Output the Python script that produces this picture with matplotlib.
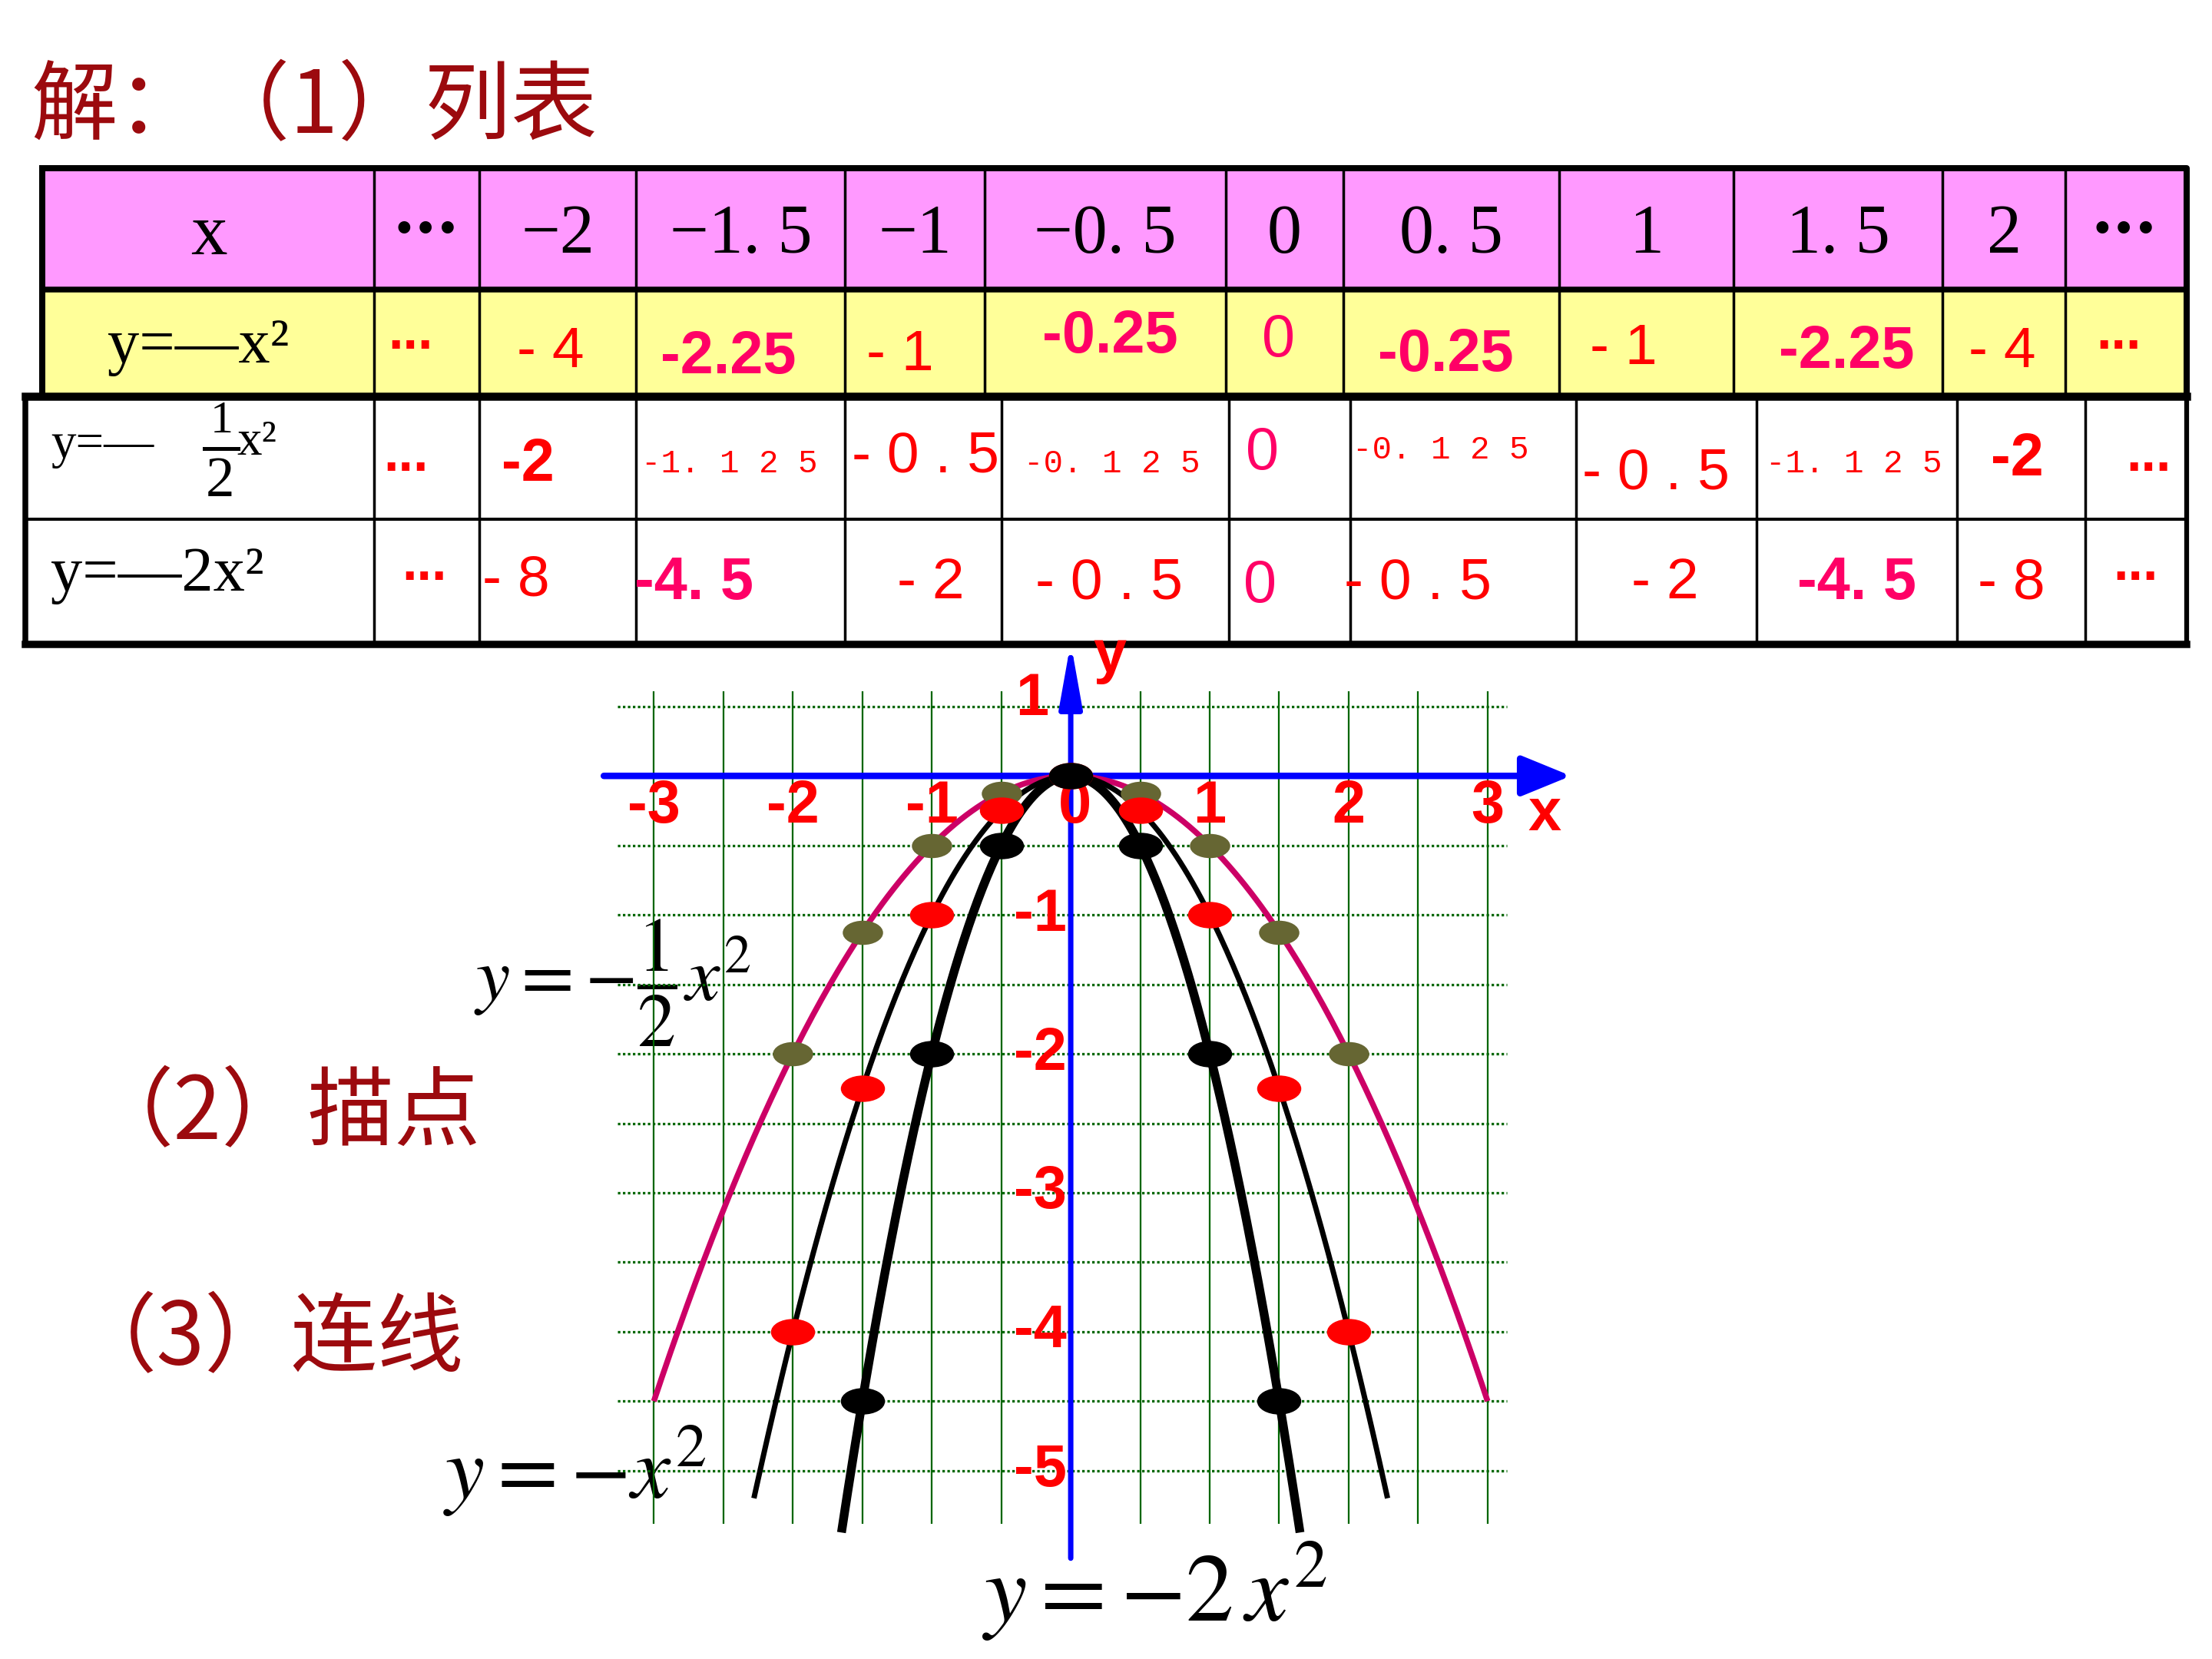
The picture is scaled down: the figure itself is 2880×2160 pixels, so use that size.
import numpy as np
import matplotlib.pyplot as plt
from matplotlib.patches import Rectangle, FancyArrowPatch
from matplotlib.path import Path
from matplotlib.transforms import Affine2D

plt.rcParams["font.family"] = ["Liberation Sans", "DejaVu Sans"]
plt.rcParams["mathtext.fontset"] = "stix"

# value table: x and the three functions
x_vals = [-2, -1.5, -1, -0.5, 0, 0.5, 1, 1.5, 2]
x_labels = ["−2", "−1. 5", "−1", "−0. 5", "0", "0. 5", "1", "1. 5", "2"]
y_sq = [-4, -2.25, -1, -0.25, 0, -0.25, -1, -2.25, -4]            # y = -x²
y_sq_labels = ["- 4", "-2.25", "- 1", "-0.25", "0", "-0.25", "- 1", "-2.25", "- 4"]
y_half = [-2, -1.125, -0.5, -0.125, 0, -0.125, -0.5, -1.125, -2]  # y = -x²/2
y_half_labels = ["-2", "-1. 1 2 5", "- 0 . 5", "-0. 1 2 5", "0",
                 "-0. 1 2 5", "- 0 . 5", "-1. 1 2 5", "-2"]
y_dbl = [-8, -4.5, -2, -0.5, 0, -0.5, -2, -4.5, -8]                # y = -2x²
y_dbl_labels = ["- 8", "-4. 5", "- 2", "- 0 . 5", "0", "- 0 . 5", "- 2", "-4. 5", "- 8"]

# x extent of each drawn curve
span_half = (-3.0, 3.0)
span_sq = (-2.28, 2.28)
span_dbl = (-1.65, 1.65)

DARK_RED = "#9C0A0E"
PINK = "#FF99FF"
YELLOW = "#FFFF99"
RED = "#FF0000"
CRIMSON = "#FF0066"
MAGENTA = "#CC0066"
OLIVE = "#666633"
GRID = "#006600"
BLUE = "#0000FF"

SERIF = ["Liberation Serif", "DejaVu Serif"]
NARROW = ["Liberation Sans Narrow", "Liberation Sans", "DejaVu Sans"]
MONO = ["Liberation Mono", "DejaVu Sans Mono"]
CJK = ["Noto Sans CJK SC", "DejaVu Sans"]

W, H = 1568, 1176          # layout grid (pixels of the slide)
PX_PER_PT = 1 / 0.7347

fig = plt.figure(figsize=(16, 12), dpi=180)
fig.patch.set_facecolor("white")

ov = fig.add_axes([0, 0, 1, 1])
ov.set_xlim(0, W)
ov.set_ylim(H, 0)
ov.axis("off")


def put(x, y, s, size, color="black", family=None, weight="normal", ha="center"):
    """text whose digits are vertically centred on y"""
    ov.text(x, y + 0.35 * size * PX_PER_PT, s, fontsize=size, color=color,
            family=family or NARROW, weight=weight, ha=ha, va="baseline")


def red_dots(x, y):
    ov.text(x, y + 4, "...", fontsize=28, color=RED, weight="bold",
            ha="center", va="baseline", family=["Liberation Sans", "DejaVu Sans"])


def cell_value(x, y, s):
    if "1 2 5" in s:
        put(x, y, s, 17, RED, MONO)
    elif s in ("-2.25", "-0.25", "-4. 5"):
        put(x, y, s, 31, CRIMSON, NARROW, "bold")
    elif s == "-2":
        put(x, y, s, 31, RED, NARROW, "bold")
    elif s == "0":
        put(x, y, s, 31, CRIMSON, NARROW)
    else:
        put(x, y, s, 30, RED, NARROW)


# ---------- title ----------
ov.text(22, 77, "解：（1）列表", fontsize=45, color=DARK_RED, family=CJK,
        ha="left", va="center")
ov.text(62, 790, "（2）描点", fontsize=45, color=DARK_RED, family=CJK,
        ha="left", va="center")
ov.text(50, 950, "（3）连线", fontsize=45, color=DARK_RED, family=CJK,
        ha="left", va="center")

# ---------- upper table ----------
tc = [30, 265, 340, 451, 599, 698, 869, 952, 1105, 1229, 1377, 1464, 1550]
tr = [119, 205, 281]
ov.add_patch(Rectangle((tc[0], tr[0]), tc[-1] - tc[0], tr[1] - tr[0], fc=PINK, ec="none"))
ov.add_patch(Rectangle((tc[0], tr[1]), tc[-1] - tc[0], tr[2] - tr[1], fc=YELLOW, ec="none"))
for xv in tc[1:-1]:
    ov.plot([xv, xv], [tr[0], tr[2]], color="black", lw=1.4)
ov.plot([tc[0], tc[-1]], [tr[1], tr[1]], color="black", lw=3)
ov.plot([tc[0], tc[-1], tc[-1]], [tr[0], tr[0], tr[2]], color="black", lw=3.2)
ov.plot([tc[0], tc[0]], [tr[0], tr[2]], color="black", lw=3.2)

# ---------- lower table ----------
bc = [18, 265, 340, 451, 599, 710, 871, 957, 1117, 1245, 1387, 1478, 1550]
br = [281, 368, 457]
for xv in bc[1:-1]:
    ov.plot([xv, xv], [br[0], br[2]], color="black", lw=1.4)
ov.plot([bc[0], bc[-1]], [br[1], br[1]], color="black", lw=1.6)
ov.plot([bc[0], bc[0]], [br[0], br[2]], color="black", lw=3)
ov.plot([bc[-1], bc[-1]], [br[0], br[2]], color="black", lw=2.5)
ov.plot([bc[0], bc[-1]], [br[2], br[2]], color="black", lw=3.8)
ov.plot([bc[0], bc[-1]], [br[0], br[0]], color="black", lw=4.2)

# header row
put(148, 162, "x", 38, family=SERIF)
for xd in (302, 1506):
    ov.text(xd, 170, "•••", fontsize=18, color="black", ha="center", va="baseline",
            family=["DejaVu Sans"], weight="bold")
for i, s in enumerate(x_labels):
    put((tc[i + 2] + tc[i + 3]) / 2, 162, s, 36, family=SERIF)

# row labels
ov.text(76, 246, "y=—x²", fontsize=33, family=SERIF, ha="left", va="center")
ov.text(36, 316, "y=—", fontsize=26, family=SERIF, ha="left", va="center")
ov.text(157, 299, "1", fontsize=24, family=SERIF, ha="center", va="center")
ov.plot([145, 169], [318, 318], color="black", lw=2)
ov.text(156, 342, "2", fontsize=30, family=SERIF, ha="center", va="center")
ov.text(168, 314, "x²", fontsize=26, family=SERIF, ha="left", va="center")
ov.text(36, 408, "y=—2x²", fontsize=33, family=SERIF, ha="left", va="center")

# value rows (cell text placement follows the slide)
sq_px = [291, 390, 516, 638, 787, 906, 1025, 1151, 1309, 1419, 1502]
sq_py = [243, 246, 250, 248, 235, 238, 248, 244, 246, 246, 243]
half_px = [288, 374, 517, 656, 788, 895, 1021, 1174, 1314, 1430, 1523]
half_py = [330, 326, 327, 320, 327, 318, 317, 332, 327, 322, 330]
dbl_px = [301, 366, 492, 660, 786, 893, 1005, 1180, 1316, 1426, 1514]
dbl_py = [407, 408, 410, 410, 410, 412, 410, 410, 410, 410, 407]
for labels, px, py in ((y_sq_labels, sq_px, sq_py),
                       (y_half_labels, half_px, half_py),
                       (y_dbl_labels, dbl_px, dbl_py)):
    red_dots(px[0], py[0])
    red_dots(px[-1], py[-1])
    for s, xx, yy in zip(labels, px[1:-1], py[1:-1]):
        cell_value(xx, yy, s)

# ---------- coordinate graph ----------
X0, Y0, U = 759, 550, 98.5      # origin and unit length on the slide
gx, gy = (-3.6, 3.8), (-6.2, 1.3)
left, right = (X0 + gx[0] * U) / W, (X0 + gx[1] * U) / W
bottom, top = 1 - (Y0 - gy[0] * U) / H, 1 - (Y0 - gy[1] * U) / H
ax = fig.add_axes([left, bottom, right - left, top - bottom])
ax.set_xlim(*gx)
ax.set_ylim(*gy)
ax.axis("off")
ax.patch.set_alpha(0)

ax.vlines(np.arange(-3, 3.01, 0.5), -5.38, 0.61, color=GRID, lw=0.9, zorder=1)
hy = [v for v in np.arange(-5, 0.51, 0.5) if v != 0]
ax.hlines(hy, -3.26, 3.14, color=GRID, lw=1.3, linestyles=(0, (1, 1)), zorder=1)

ax.add_patch(FancyArrowPatch((-3.36, 0), (3.6, 0), arrowstyle="-|>,head_length=1.1,head_width=0.45",
                             mutation_scale=20, color=BLUE, lw=3.4, shrinkA=0, shrinkB=0, zorder=2))
ax.add_patch(FancyArrowPatch((0, -5.63), (0, 0.96), arrowstyle="-|>,head_length=1.4,head_width=0.25",
                             mutation_scale=20, color=BLUE, lw=2.8, shrinkA=0, shrinkB=0, zorder=2))

lab = dict(color=RED, fontsize=31, weight="bold", ha="center", va="center", family=NARROW)
for t in range(-3, 4):
    ax.text(t + (0.03 if t == 0 else 0), -0.22, str(t), **lab)
for t in range(-5, 0):
    ax.text(-0.22, t, str(t), **lab)
ax.text(-0.28, 0.55, "1", **lab)
ax.text(0.28, 0.86, "y", **lab)
ax.text(3.41, -0.28, "x", **lab)

# curves through the tabulated points
for vals, span, color, lw in ((y_half, span_half, MAGENTA, 3.0),
                              (y_sq, span_sq, "black", 2.8),
                              (y_dbl, span_dbl, "black", 4.6)):
    coef = np.polyfit(x_vals, vals, 2)
    xs = np.linspace(span[0], span[1], 300)
    ax.plot(xs, np.polyval(coef, xs), color=color, lw=lw, zorder=3,
            solid_capstyle="butt")

ell = Path.unit_circle().transformed(Affine2D().scale(1, 0.58))
for vals, color, ms in ((y_half, OLIVE, 20), (y_sq, RED, 22), (y_dbl, "black", 22)):
    pts = [(xv, yv) for xv, yv in zip(x_vals, vals) if yv >= -5]
    ax.plot([p[0] for p in pts], [p[1] for p in pts], ls="none", marker=ell,
            ms=ms, color=color, zorder=4)

# curve names
ov.text(336, 697, r"$y=-\dfrac{1}{2}x^2$", fontsize=40, ha="left", va="center")
ov.text(314, 1043, r"$y=-x^2$", fontsize=46, ha="left", va="center")
ov.text(696, 1128, r"$y=-2\,x^2$", fontsize=50, ha="left", va="center")

fig.savefig("out.png", dpi=180, facecolor="white")
